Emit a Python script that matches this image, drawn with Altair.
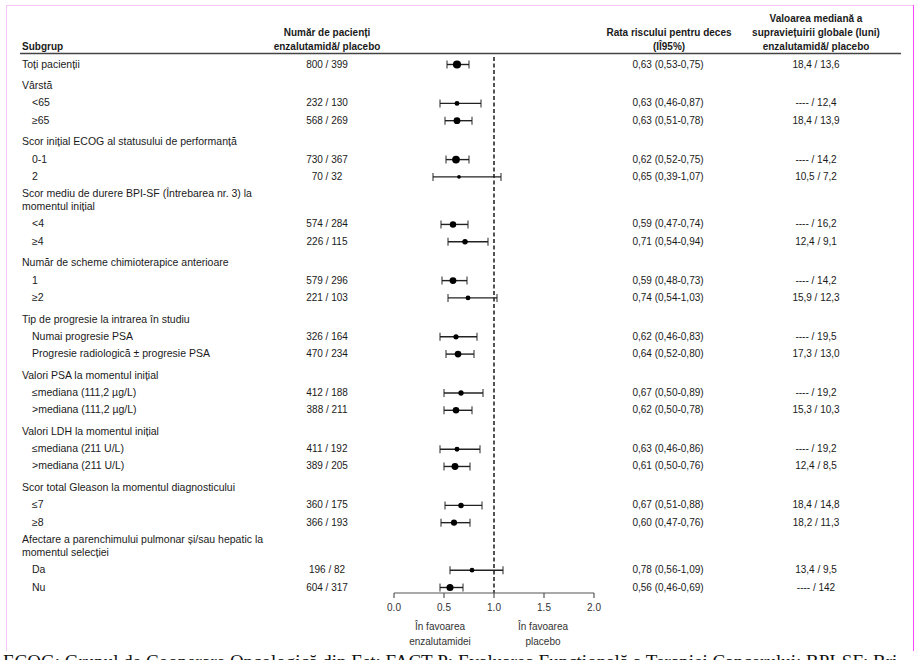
import math
import altair as alt
import pandas as pd

# ---------------- data ----------------
line_text = [
    "Toți pacienții",
    "Vârstă", "<65", "≥65",
    "Scor inițial ECOG al statusului de performanță", "0-1", "2",
    "Scor mediu de durere BPI-SF (Întrebarea nr. 3) la", "momentul inițial", "<4", "≥4",
    "Număr de scheme chimioterapice anterioare", "1", "≥2",
    "Tip de progresie la intrarea în studiu", "Numai progresie PSA", "Progresie radiologică ± progresie PSA",
    "Valori PSA la momentul inițial", "≤mediana (111,2 µg/L)", ">mediana (111,2 µg/L)",
    "Valori LDH la momentul inițial", "≤mediana (211 U/L)", ">mediana (211 U/L)",
    "Scor total Gleason la momentul diagnosticului", "≤7", "≥8",
    "Afectare a parenchimului pulmonar și/sau hepatic la", "momentul selecției", "Da", "Nu",
]
line_kind = [
    "row0",
    "head", "sub", "sub",
    "head", "sub", "sub",
    "head2", "cont", "sub", "sub",
    "head", "sub", "sub",
    "head", "sub", "sub",
    "head", "sub", "sub",
    "head", "sub", "sub",
    "head", "sub", "sub",
    "head2", "cont", "sub", "sub",
]

n_enz = [800, 232, 568, 730, 70, 574, 226, 579, 221, 326, 470, 412, 388, 411, 389, 360, 366, 196, 604]
n_plac = [399, 130, 269, 367, 32, 284, 115, 296, 103, 164, 234, 188, 211, 192, 205, 175, 193, 82, 317]
hr = [0.63, 0.63, 0.63, 0.62, 0.65, 0.59, 0.71, 0.59, 0.74, 0.62, 0.64, 0.67, 0.62, 0.63, 0.61, 0.67, 0.60, 0.78, 0.56]
ci_lo = [0.53, 0.46, 0.51, 0.52, 0.39, 0.47, 0.54, 0.48, 0.54, 0.46, 0.52, 0.50, 0.50, 0.46, 0.50, 0.51, 0.47, 0.56, 0.46]
ci_hi = [0.75, 0.87, 0.78, 0.75, 1.07, 0.74, 0.94, 0.73, 1.03, 0.83, 0.80, 0.89, 0.78, 0.86, 0.76, 0.88, 0.76, 1.09, 0.69]
med_enz = ["18,4", "----", "18,4", "----", "10,5", "----", "12,4", "----", "15,9", "----", "17,3",
           "----", "15,3", "----", "12,4", "18,4", "18,2", "13,4", "----"]
med_plac = ["13,6", "12,4", "13,9", "14,2", "7,2", "16,2", "9,1", "14,2", "12,3", "19,5", "13,0",
            "19,2", "10,3", "19,2", "8,5", "14,8", "11,3", "9,5", "142"]

tick_values = [0.0, 0.5, 1.0, 1.5, 2.0]
reference_hr = [1.0]
footnote = ("ECOG: Grupul de Cooperare Oncologică din Est; FACT-P: Evaluarea Funcțională a "
            "Terapiei Cancerului; BPI-SF: Bri")

# ---------------- layout helpers ----------------
STEP = {"row0": 0.0, "head": 1.25, "head2": 1.0, "cont": 0.75, "sub": 1.0}
pos, acc = [], 0.0
for i, k in enumerate(line_kind):
    if i > 0:
        acc += STEP[k]
    pos.append(acc)
total = pos[-1]

lines_df = pd.DataFrame({"text": line_text, "kind": line_kind, "pos": pos})
lines_df["is_sub"] = [1 if k == "sub" else 0 for k in line_kind]

data_pos = [p for p, k in zip(pos, line_kind) if k in ("row0", "sub")]


def comma(v):
    return f"{v:.2f}".replace(".", ",")


rows_df = pd.DataFrame({
    "pos": data_pos, "hr": hr, "lo": ci_lo, "hi": ci_hi,
})
rows_df["count"] = [f"{a} / {b}" for a, b in zip(n_enz, n_plac)]
rows_df["hr_txt"] = [f"{comma(h)} ({comma(l)}-{comma(u)})" for h, l, u in zip(hr, ci_lo, ci_hi)]
rows_df["med"] = [f"{a} / {b}" for a, b in zip(med_enz, med_plac)]
rows_df["w"] = [1.0 / math.log(u / l) ** 2 for l, u in zip(ci_lo, ci_hi)]

ticks_df = pd.DataFrame({"v": tick_values})
ref_df = pd.DataFrame({"v": reference_hr})
axis_df = pd.DataFrame({"lo": [min(tick_values)], "hi": [max(tick_values)]})
one = pd.DataFrame({"a": [0]})

FONT = "Liberation Sans"
TXT = "#1a1a1a"

yscale = alt.Scale(domain=[0, total], range=[64.5, 587.5], nice=False, zero=False)
xscale = alt.Scale(domain=[0, 2], range=[394, 594], nice=False, zero=False)
Y = alt.Y("pos:Q", scale=yscale, axis=None)

# ---------------- table text ----------------
head_lbl = alt.Chart(lines_df).transform_filter("datum.is_sub == 0").mark_text(
    align="left", baseline="middle", font=FONT, fontSize=10.5, color=TXT
).encode(x=alt.value(22), y=Y, text="text:N")

sub_lbl = alt.Chart(lines_df).transform_filter("datum.is_sub == 1").mark_text(
    align="left", baseline="middle", font=FONT, fontSize=10.5, color=TXT
).encode(x=alt.value(32), y=Y, text="text:N")

count_txt = alt.Chart(rows_df).mark_text(
    align="center", baseline="middle", font=FONT, fontSize=10, color=TXT
).encode(x=alt.value(327), y=Y, text="count:N")

hr_txt = alt.Chart(rows_df).mark_text(
    align="center", baseline="middle", font=FONT, fontSize=10, color=TXT
).encode(x=alt.value(668), y=Y, text="hr_txt:N")

med_txt = alt.Chart(rows_df).mark_text(
    align="center", baseline="middle", font=FONT, fontSize=10, color=TXT
).encode(x=alt.value(816), y=Y, text="med:N")


def label(text, x, y, align="center", bold=False, size=10, color=TXT, font=FONT, baseline="middle"):
    return alt.Chart(one).mark_text(
        align=align, baseline=baseline, font=font, fontSize=size,
        fontWeight="bold" if bold else "normal", color=color
    ).encode(x=alt.value(x), y=alt.value(y), text=alt.value(text))


headers = [
    label("Subgrup", 22, 47, align="left", bold=True),
    label("Număr de pacienți", 327, 33, bold=True),
    label("enzalutamidă/ placebo", 327, 47, bold=True),
    label("Rata riscului pentru deces", 669, 33, bold=True),
    label("(IÎ95%)", 669, 47, bold=True),
    label("Valoarea mediană a", 816, 19, bold=True),
    label("supraviețuirii globale (luni)", 816, 33, bold=True),
    label("enzalutamidă/ placebo", 816, 47, bold=True),
    label("În favoarea", 440, 627, color="#333"),
    label("enzalutamidei", 440, 642, color="#333"),
    label("În favoarea", 543, 627, color="#333"),
    label("placebo", 543, 642, color="#333"),
    label(footnote, 3, 653, align="left", size=19, color="#111", font="Liberation Serif",
          baseline="top"),
]

header_rule = alt.Chart(one).mark_rule(color="#444", strokeWidth=1.5).encode(
    x=alt.value(20), x2=alt.value(901), y=alt.value(53.5))

frame = [
    alt.Chart(one).mark_rule(color="#f6c6f6", strokeWidth=1).encode(
        x=alt.value(6), x2=alt.value(913), y=alt.value(5.5)),
    alt.Chart(one).mark_rule(color="#f6c6f6", strokeWidth=1).encode(
        x=alt.value(6.5), y=alt.value(5), y2=alt.value(651)),
    alt.Chart(one).mark_rule(color="#ff44ff", strokeWidth=1).encode(
        x=alt.value(913.5), y=alt.value(5), y2=alt.value(651)),
]

# ---------------- forest plot ----------------
ref_line = alt.Chart(ref_df).mark_rule(color="#1a1a1a", strokeWidth=1.5, strokeDash=[4, 2.5]).encode(
    x=alt.X("v:Q", scale=xscale, axis=None), y=alt.value(57), y2=alt.value(593))

ci_rule = alt.Chart(rows_df).mark_rule(color="#222", strokeWidth=1.4).encode(
    x=alt.X("lo:Q", scale=xscale, axis=None), x2="hi:Q", y=Y)

cap_lo = alt.Chart(rows_df).mark_tick(color="#222", thickness=1.4, size=8, orient="vertical").encode(
    x=alt.X("lo:Q", scale=xscale, axis=None), y=Y)
cap_hi = alt.Chart(rows_df).mark_tick(color="#222", thickness=1.4, size=8, orient="vertical").encode(
    x=alt.X("hi:Q", scale=xscale, axis=None), y=Y)

points = alt.Chart(rows_df).mark_point(filled=True, color="#000", opacity=1, shape="circle").encode(
    x=alt.X("hr:Q", scale=xscale, axis=None), y=Y,
    size=alt.Size("w:Q", scale=alt.Scale(domain=[0.98, 8.3], range=[13, 66], zero=False),
                  legend=None))

axis_line = alt.Chart(axis_df).mark_rule(color="#555", strokeWidth=1.2).encode(
    x=alt.X("lo:Q", scale=xscale, axis=None), x2="hi:Q", y=alt.value(593))
axis_ticks = alt.Chart(ticks_df).mark_rule(color="#555", strokeWidth=1.2).encode(
    x=alt.X("v:Q", scale=xscale, axis=None), y=alt.value(593), y2=alt.value(598))
axis_lbls = alt.Chart(ticks_df).mark_text(
    font=FONT, fontSize=10, color="#333", baseline="middle"
).encode(x=alt.X("v:Q", scale=xscale, axis=None), y=alt.value(608),
         text=alt.Text("v:Q", format=".1f"))

chart = alt.layer(
    *frame, header_rule, *headers,
    head_lbl, sub_lbl, count_txt, hr_txt, med_txt,
    ref_line, ci_rule, cap_lo, cap_hi, points,
    axis_line, axis_ticks, axis_lbls,
).properties(
    width=917, height=660, autosize="none", padding=0, background="white"
).configure_view(stroke=None)

chart.save("out.html", embed_options={"renderer": "svg", "actions": False})
